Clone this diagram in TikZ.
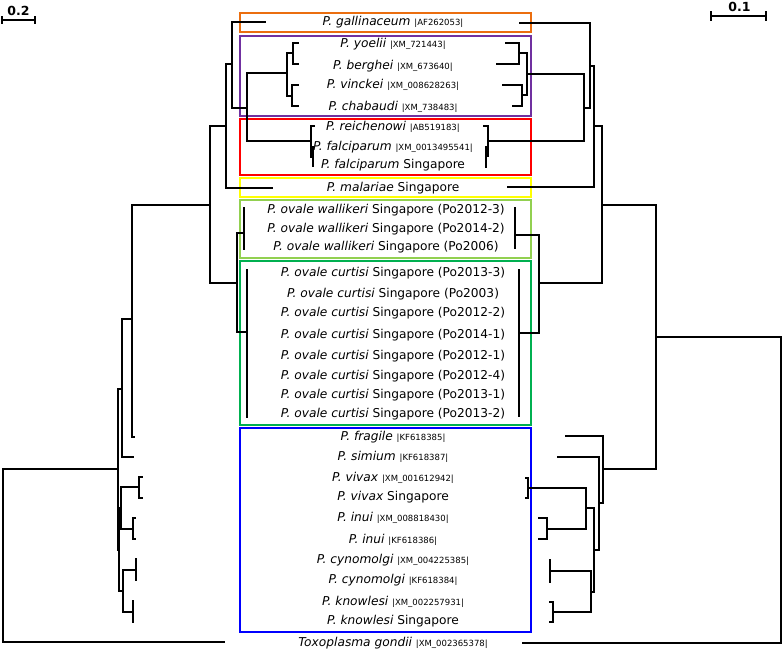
\documentclass[tikz,border=0pt]{standalone}
\usepackage{fontspec}
\setmainfont{DejaVu Sans}
\usepackage{tikz}
\definecolor{galorange}{RGB}{235, 110, 15}
\definecolor{rodpurple}{RGB}{112, 48, 160}
\definecolor{falred}{RGB}{255, 0, 0}
\definecolor{malyellow}{RGB}{255, 255, 0}
\definecolor{walgreen}{RGB}{146, 208, 80}
\definecolor{curgreen}{RGB}{0, 176, 80}
\definecolor{vivblue}{RGB}{0, 0, 255}
\newcommand{\accno}[1]{{\fontsize{8.5}{10}\selectfont |#1|}}

\begin{document}
\begin{tikzpicture}[x=1pt, y=-1pt,
  branch/.style={line width=1.7pt, black, line cap=rect},
  cladebox/.style={line width=2.3pt},
  taxon/.style={inner sep=0pt, font=\fontsize{12.2}{14}\selectfont},
  scalelabel/.style={inner sep=0pt, font=\fontsize{12.5}{14}\selectfont\bfseries}
]
  \useasboundingbox (0,0) rectangle (784,651);

  % clade boxes
  \draw[cladebox, galorange] (240,13) rectangle (531,32);
  \draw[cladebox, rodpurple] (240,36) rectangle (531,116);
  \draw[cladebox, falred] (240,119) rectangle (531,175);
  \draw[cladebox, malyellow] (240,178) rectangle (531,197);
  \draw[cladebox, walgreen] (240,200) rectangle (531,258);
  \draw[cladebox, curgreen] (240,261) rectangle (531,425);
  \draw[cladebox, vivblue] (240,428) rectangle (531,632);

  % taxa
  \node[taxon] (gal) at (393,22) {\textit{P. gallinaceum} \accno{AF262053}};
  \node[taxon] (yoe) at (393,44) {\textit{P. yoelii} \accno{XM\_721443}};
  \node[taxon] (ber) at (393,66) {\textit{P. berghei} \accno{XM\_673640}};
  \node[taxon] (vin) at (393,85) {\textit{P. vinckei} \accno{XM\_008628263}};
  \node[taxon] (cha) at (393,107) {\textit{P. chabaudi} \accno{XM\_738483}};
  \node[taxon] (rei) at (393,127) {\textit{P. reichenowi} \accno{AB519183}};
  \node[taxon] (fal) at (393,147) {\textit{P. falciparum} \accno{XM\_0013495541}};
  \node[taxon] (falS) at (393,165) {\textit{P. falciparum} Singapore};
  \node[taxon] (mal) at (393,188) {\textit{P. malariae} Singapore};
  \node[taxon] (wal1) at (386,210) {\textit{P. ovale wallikeri} Singapore (Po2012-3)};
  \node[taxon] (wal2) at (386,229) {\textit{P. ovale wallikeri} Singapore (Po2014-2)};
  \node[taxon] (wal3) at (386,247) {\textit{P. ovale wallikeri} Singapore (Po2006)};
  \node[taxon] (cur1) at (393,273) {\textit{P. ovale curtisi} Singapore (Po2013-3)};
  \node[taxon] (cur2) at (393,294) {\textit{P. ovale curtisi} Singapore (Po2003)};
  \node[taxon] (cur3) at (393,313) {\textit{P. ovale curtisi} Singapore (Po2012-2)};
  \node[taxon] (cur4) at (393,335) {\textit{P. ovale curtisi} Singapore (Po2014-1)};
  \node[taxon] (cur5) at (393,356) {\textit{P. ovale curtisi} Singapore (Po2012-1)};
  \node[taxon] (cur6) at (393,376) {\textit{P. ovale curtisi} Singapore (Po2012-4)};
  \node[taxon] (cur7) at (393,395) {\textit{P. ovale curtisi} Singapore (Po2013-1)};
  \node[taxon] (cur8) at (393,414) {\textit{P. ovale curtisi} Singapore (Po2013-2)};
  \node[taxon] (fra) at (393,437) {\textit{P. fragile} \accno{KF618385}};
  \node[taxon] (sim) at (393,457) {\textit{P. simium} \accno{KF618387}};
  \node[taxon] (viv) at (393,478) {\textit{P. vivax} \accno{XM\_001612942}};
  \node[taxon] (vivS) at (393,497) {\textit{P. vivax} Singapore};
  \node[taxon] (inu1) at (393,518) {\textit{P. inui} \accno{XM\_008818430}};
  \node[taxon] (inu2) at (393,540) {\textit{P. inui} \accno{KF618386}};
  \node[taxon] (cyn1) at (393,560) {\textit{P. cynomolgi} \accno{XM\_004225385}};
  \node[taxon] (cyn2) at (393,580) {\textit{P. cynomolgi} \accno{KF618384}};
  \node[taxon] (kno1) at (393,602) {\textit{P. knowlesi} \accno{XM\_002257931}};
  \node[taxon] (kno2) at (393,621) {\textit{P. knowlesi} Singapore};
  \node[taxon] (tox) at (393,643) {\textit{Toxoplasma gondii} \accno{XM\_002365378}};

  % scale bars
  \draw[branch, line cap=butt] (2,16) -- (2,24) (2,20) -- (35,20) (35,16) -- (35,24);
  \node[scalelabel] (sbleft) at (18.5,11) {0.2};
  \draw[branch, line cap=butt] (711,11) -- (711,21) (711,16) -- (766,16) (766,11) -- (766,21);
  \node[scalelabel] (sbright) at (739.5,7) {0.1};

  % left tree
  \draw[branch] (224,642) -| (3,469) -- (118,469);
  \draw[branch] (122,389) -| (118,550) -- (119,550);
  \draw[branch] (121,508) -| (119,591) -- (123,591);
  \draw[branch] (139,487) -| (121,529) -- (133,529);
  \draw[branch] (142,477) -| (139,498) -- (142,498);
  \draw[branch] (135,518) -| (133,539) -- (135,539);
  \draw[branch] (136,570) -| (123,612) -- (133,612);
  \draw[branch] (136,559) -- (136,580);
  \draw[branch] (133,601) -- (133,622);
  \draw[branch] (132,319) -| (122,457) -- (133,457);
  \draw[branch] (210,205) -| (132,437) -- (134,437);
  \draw[branch] (226,126) -| (210,283) -- (237,283);
  \draw[branch] (244,233) -| (237,332) -- (247,332);
  \draw[branch] (244,208) -- (244,249);
  \draw[branch] (247,270) -- (247,417);
  \draw[branch] (232,64) -| (226,188) -- (272,188);
  \draw[branch] (265,22) -| (232,108) -- (247,108);
  \draw[branch] (287,73) -| (247,141) -- (311,141);
  \draw[branch] (293,53) -| (287,96) -- (292,96);
  \draw[branch] (298,43) -| (293,64) -- (298,64);
  \draw[branch] (298,85) -| (292,106) -- (298,106);
  \draw[branch] (314,126) -| (311,157) -- (313,157);
  \draw[branch] (313,147) -- (313,166);

  % right tree
  \draw[branch] (523,643) -| (781,337) -- (656,337);
  \draw[branch] (602,205) -| (656,469) -- (603,469);
  \draw[branch] (594,126) -| (602,283) -- (539,283);
  \draw[branch] (515,235) -| (539,333) -- (519,333);
  \draw[branch] (515,208) -- (515,248);
  \draw[branch] (519,270) -- (519,416);
  \draw[branch] (590,66) -| (594,187) -- (508,187);
  \draw[branch] (520,23) -| (590,108) -- (584,108);
  \draw[branch] (527,74) -| (584,141) -- (488,141);
  \draw[branch] (519,53) -| (527,95) -- (522,95);
  \draw[branch] (506,43) -| (519,64) -- (497,64);
  \draw[branch] (503,85) -| (522,106) -- (513,106);
  \draw[branch] (484,126) -| (488,156) -- (486,156);
  \draw[branch] (486,147) -- (486,167);
  \draw[branch] (566,436) -| (603,503) -- (599,503);
  \draw[branch] (558,457) -| (599,550) -- (594,550);
  \draw[branch] (586,508) -| (594,592) -- (591,592);
  \draw[branch] (528,488) -| (586,529) -- (547,529);
  \draw[branch] (526,478) -| (528,498) -- (526,498);
  \draw[branch] (539,518) -| (547,539) -- (539,539);
  \draw[branch] (550,571) -| (591,612) -- (553,612);
  \draw[branch] (550,560) -- (550,582);
  \draw[branch] (550,602) -| (553,622) -- (550,622);
\end{tikzpicture}
\end{document}
